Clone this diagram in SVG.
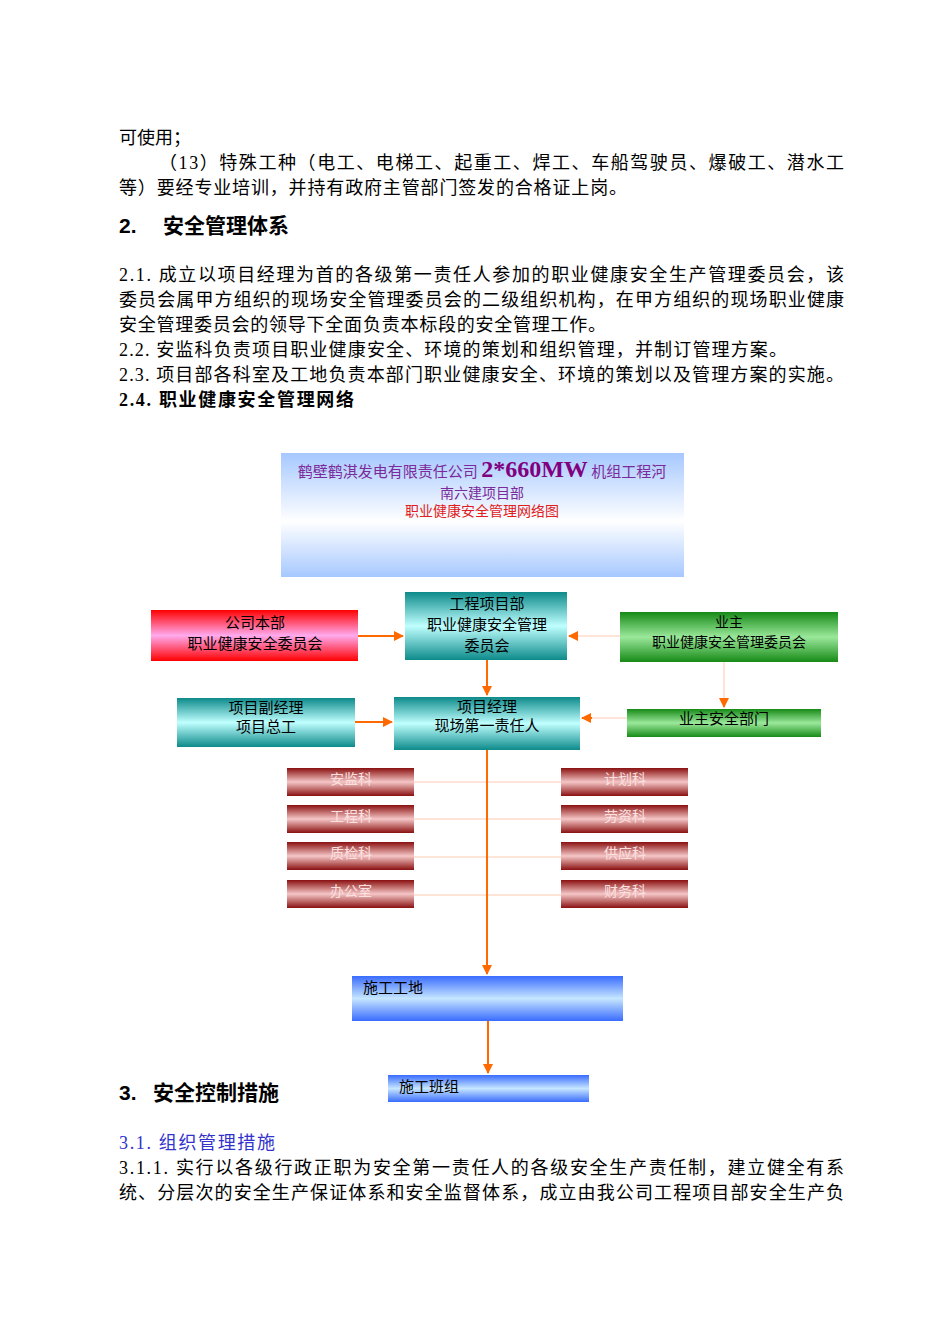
<svg xmlns="http://www.w3.org/2000/svg" width="950" height="1344" viewBox="0 0 950 1344">
<defs>
<linearGradient id="gT" x1="0" y1="0" x2="0" y2="1"><stop offset="0" stop-color="#a6c8ff"/><stop offset="0.55" stop-color="#ffffff"/><stop offset="1" stop-color="#a6c8ff"/></linearGradient>
<linearGradient id="gR" x1="0" y1="0" x2="0" y2="1"><stop offset="0" stop-color="#ff0000"/><stop offset="0.5" stop-color="#ffaaee"/><stop offset="1" stop-color="#ff0000"/></linearGradient>
<linearGradient id="gC" x1="0" y1="0" x2="0" y2="1"><stop offset="0" stop-color="#0d8a8a"/><stop offset="0.5" stop-color="#c0ffff"/><stop offset="1" stop-color="#0d8a8a"/></linearGradient>
<linearGradient id="gG" x1="0" y1="0" x2="0" y2="1"><stop offset="0" stop-color="#168a16"/><stop offset="0.5" stop-color="#9be89b"/><stop offset="1" stop-color="#168a16"/></linearGradient>
<linearGradient id="gM" x1="0" y1="0" x2="0" y2="1"><stop offset="0" stop-color="#8a1010"/><stop offset="0.5" stop-color="#f5c6c6"/><stop offset="1" stop-color="#8a1010"/></linearGradient>
<linearGradient id="gB" x1="0" y1="0" x2="0" y2="1"><stop offset="0" stop-color="#3a6cff"/><stop offset="0.5" stop-color="#c6e6ff"/><stop offset="1" stop-color="#3a6cff"/></linearGradient>
<marker id="ar" markerWidth="10" markerHeight="10" refX="9" refY="5" orient="auto" markerUnits="userSpaceOnUse"><path d="M0,0 L10,5 L0,10 Z" fill="#ff6a00"/></marker>
</defs>
<style>
.b{font-family:"Liberation Serif","Noto Sans CJK SC",serif;font-size:18px;fill:#000}
.h{font-family:"Liberation Sans","Noto Sans CJK SC",sans-serif;font-size:21px;font-weight:bold;fill:#000}
.n{font-family:"Noto Sans CJK SC",sans-serif;font-size:15px;fill:#000;text-anchor:middle}
.w{font-family:"Noto Sans CJK SC",sans-serif;font-size:14px;fill:#fbe0e0;text-anchor:middle}
.ln{stroke:#ff6a00;stroke-width:2;fill:none}
.tn{stroke:#ffc8b0;stroke-width:1;fill:none}
</style>
<g id="text">
<text class="b" x="119" y="144">可使用；</text>
<text class="b" x="159" y="169" textLength="685">（13）特殊工种（电工、电梯工、起重工、焊工、车船驾驶员、爆破工、潜水工</text>
<text class="b" x="119" y="194" textLength="508">等）要经专业培训，并持有政府主管部门签发的合格证上岗。</text>
<text class="h" x="119" y="233">2.</text><text class="h" x="163" y="233">安全管理体系</text>
<text class="b" x="119" y="281" textLength="725">2.1. 成立以项目经理为首的各级第一责任人参加的职业健康安全生产管理委员会，该</text>
<text class="b" x="119" y="306" textLength="725">委员会属甲方组织的现场安全管理委员会的二级组织机构，在甲方组织的现场职业健康</text>
<text class="b" x="119" y="331" textLength="487">安全管理委员会的领导下全面负责本标段的安全管理工作。</text>
<text class="b" x="119" y="356" textLength="668">2.2. 安监科负责项目职业健康安全、环境的策划和组织管理，并制订管理方案。</text>
<text class="b" x="119" y="381" textLength="725">2.3. 项目部各科室及工地负责本部门职业健康安全、环境的策划以及管理方案的实施。</text>
<text class="b" x="119" y="406" font-weight="bold" textLength="235">2.4. 职业健康安全管理网络</text>
<text class="h" x="119" y="1100">3.</text><text class="h" x="153" y="1100">安全控制措施</text>
<text class="b" x="119" y="1149" style="fill:#3333cc" textLength="156">3.1. 组织管理措施</text>
<text class="b" x="119" y="1174" textLength="725">3.1.1. 实行以各级行政正职为安全第一责任人的各级安全生产责任制，建立健全有系</text>
<text class="b" x="119" y="1199" textLength="725">统、分层次的安全生产保证体系和安全监督体系，成立由我公司工程项目部安全生产负</text>
</g>
<g id="connectors">
<line class="ln" x1="358" y1="636" x2="403" y2="636" marker-end="url(#ar)"/>
<line class="tn" x1="620" y1="636" x2="572" y2="636"/><line class="ln" x1="578" y1="636" x2="569" y2="636" marker-end="url(#ar)"/>
<line class="ln" x1="487" y1="660" x2="487" y2="695" marker-end="url(#ar)"/>
<line class="tn" x1="724" y1="662" x2="724" y2="700"/><line class="ln" x1="724" y1="698" x2="724" y2="707" marker-end="url(#ar)"/>
<line class="ln" x1="355" y1="722" x2="392" y2="722" marker-end="url(#ar)"/>
<line class="tn" x1="627" y1="718" x2="586" y2="718"/><line class="ln" x1="592" y1="718" x2="582" y2="718" marker-end="url(#ar)"/>
<line class="tn" x1="414" y1="782" x2="561" y2="782"/>
<line class="tn" x1="414" y1="819" x2="561" y2="819"/>
<line class="tn" x1="414" y1="857" x2="561" y2="857"/>
<line class="tn" x1="414" y1="895" x2="561" y2="895"/>
<line class="ln" x1="487" y1="750" x2="487" y2="974" marker-end="url(#ar)"/>
<line class="ln" x1="488" y1="1021" x2="488" y2="1073" marker-end="url(#ar)"/>
</g>
<g id="title"><rect x="281" y="453" width="403" height="124" fill="url(#gT)"/>
<text x="482" y="477" text-anchor="middle" font-family="Noto Sans CJK SC,sans-serif" font-size="15" fill="#7a2a9a">鹤壁鹤淇发电有限责任公司 <tspan font-family="Liberation Serif,serif" font-weight="bold" font-size="24" fill="#800080">2*660MW</tspan> 机组工程河</text>
<text x="482" y="498" text-anchor="middle" font-family="Noto Sans CJK SC,sans-serif" font-size="14" fill="#7a2a9a">南六建项目部</text>
<text x="482" y="516" text-anchor="middle" font-family="Noto Sans CJK SC,sans-serif" font-size="14" fill="#e02020">职业健康安全管理网络图</text></g>
<g id="hq"><rect x="151" y="610" width="207" height="51" fill="url(#gR)"/><text class="n" x="255" y="628">公司本部</text><text class="n" x="255" y="649">职业健康安全委员会</text></g>
<g id="pm-dept"><rect x="405" y="592" width="162" height="68" fill="url(#gC)"/><text class="n" x="487" y="609">工程项目部</text><text class="n" x="487" y="630">职业健康安全管理</text><text class="n" x="487" y="651">委员会</text></g>
<g id="owner"><rect x="620" y="612" width="218" height="50" fill="url(#gG)"/><text class="n" x="729" y="627" font-size="14" style="font-size:14px">业主</text><text class="n" x="729" y="647" style="font-size:14px">职业健康安全管理委员会</text></g>
<g id="deputy"><rect x="177" y="698" width="178" height="49" fill="url(#gC)"/><text class="n" x="266" y="713">项目副经理</text><text class="n" x="266" y="732">项目总工</text></g>
<g id="pm"><rect x="394" y="697" width="186" height="53" fill="url(#gC)"/><text class="n" x="487" y="712">项目经理</text><text class="n" x="487" y="731">现场第一责任人</text></g>
<g id="owner-safety"><rect x="627" y="709" width="194" height="28" fill="url(#gG)"/><text class="n" x="724" y="724">业主安全部门</text></g>
<g id="d1"><rect x="287" y="768" width="127" height="28" fill="url(#gM)"/><text class="w" x="351" y="784">安监科</text></g>
<g id="d2"><rect x="287" y="805" width="127" height="28" fill="url(#gM)"/><text class="w" x="351" y="821">工程科</text></g>
<g id="d3"><rect x="287" y="842" width="127" height="28" fill="url(#gM)"/><text class="w" x="351" y="858">质检科</text></g>
<g id="d4"><rect x="287" y="880" width="127" height="28" fill="url(#gM)"/><text class="w" x="351" y="896">办公室</text></g>
<g id="d5"><rect x="561" y="768" width="127" height="28" fill="url(#gM)"/><text class="w" x="625" y="784">计划科</text></g>
<g id="d6"><rect x="561" y="805" width="127" height="28" fill="url(#gM)"/><text class="w" x="625" y="821">劳资科</text></g>
<g id="d7"><rect x="561" y="842" width="127" height="28" fill="url(#gM)"/><text class="w" x="625" y="858">供应科</text></g>
<g id="d8"><rect x="561" y="880" width="127" height="28" fill="url(#gM)"/><text class="w" x="625" y="896">财务科</text></g>
<g id="site"><rect x="352" y="976" width="271" height="45" fill="url(#gB)"/><text class="n" x="363" y="993" style="text-anchor:start">施工工地</text></g>
<g id="team"><rect x="388" y="1075" width="201" height="27" fill="url(#gB)"/><text class="n" x="399" y="1092" style="text-anchor:start">施工班组</text></g>
</svg>
